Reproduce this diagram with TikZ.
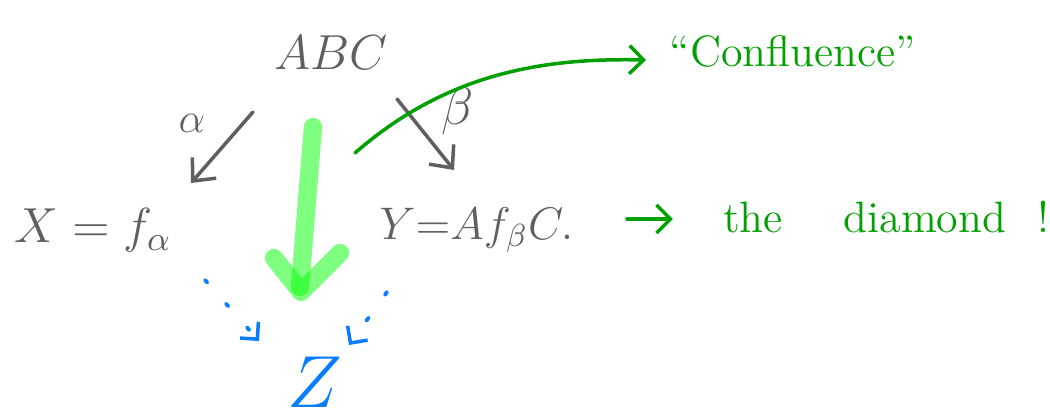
\RequirePackage{fix-cm}
\documentclass[tikz,border=0pt]{standalone}
\usepackage{fontspec}
\usetikzlibrary{arrows.meta}
\definecolor{inkgray}{RGB}{95,95,95}
\definecolor{inkgreen}{RGB}{0,160,0}
\definecolor{hlgreen}{RGB}{0,255,0}
\definecolor{inkblue}{RGB}{10,124,255}
\tikzset{
  txt/.style={inner sep=0pt, anchor=base},
  graytxt/.style={txt, text=inkgray, font=\fontsize{14}{16}\selectfont},
  greentxt/.style={txt, text=inkgreen, font=\fontsize{12.5}{15}\selectfont},
  barb/.style={-{Straight Barb[length=5pt,width=9pt,line width=1pt]}},
  grayarrow/.style={barb, draw=inkgray, line width=1pt, line cap=round},
  greenarrow/.style={-{Straight Barb[length=4pt,width=8pt,line width=1pt]}, draw=inkgreen, line width=1pt, line cap=round},
  bluedots/.style={-{Straight Barb[length=3.5pt,width=7pt,line width=1pt]}, draw=inkblue, line width=1.1pt, line cap=round, dash pattern=on 1pt off 8pt},
  bigarrow/.style={draw=hlgreen, draw opacity=0.5, line width=5.2pt, line cap=round, line join=round}
}
\begin{document}
\begin{tikzpicture}[x=0.01cm, y=-0.01cm]
\useasboundingbox (0,0) rectangle (1050,418);
% texts
\node[graytxt] (abc) at (331,70) {$ABC$};
\node[graytxt, font=\fontsize{12}{14}\selectfont] (alpha) at (192,133) {$\alpha$};
\node[graytxt, font=\fontsize{15}{17}\selectfont] (beta) at (458,124) {$\beta$};
\node[graytxt, anchor=base west] (x) at (14,243) {$X = f_\alpha$};
\node[graytxt, font=\fontsize{13}{15}\selectfont, anchor=base west] (y) at (379,240) {$Y{=}Af_\beta C.$};
\node[txt, text=inkblue, font=\fontsize{21}{24}\selectfont] (z) at (315,408) {$Z$};
\node[greentxt] (conf) at (793,67) {``Confluence''};
\node[greentxt] (the) at (753,232) {the};
\node[greentxt] (diamond) at (925,232) {diamond};
\node[greentxt] (bang) at (1043,232) {!};
% arrow end points
\coordinate (a1) at (253,112);
\coordinate (a2) at (191,183);
\coordinate (b1) at (397,99);
\coordinate (b2) at (454,170);
\coordinate (d1) at (205,280);
\coordinate (d2) at (259,341);
\coordinate (e1) at (387,292);
\coordinate (e2) at (349,345);
\coordinate (g1) at (355,153);
\coordinate (g2) at (646,60);
\coordinate (h1) at (627,219);
\coordinate (h2) at (673,219);
\coordinate (s1) at (313,127);
\coordinate (s2) at (300,287);
\coordinate (v1) at (274,258);
\coordinate (v2) at (301,292);
\coordinate (v3) at (340,253);
% big translucent green arrow
\draw[bigarrow] (s1) -- (s2);
\draw[bigarrow] (v1) -- (v2) -- (v3);
% gray arrows
\draw[grayarrow] (a1) -- (a2);
\draw[grayarrow] (b1) -- (b2);
% blue dotted arrows
\draw[bluedots] (d1) -- (d2);
\draw[bluedots] (e1) -- (e2);
% green arrows
\draw[greenarrow] (g1) .. controls (450,70) and (550,58) .. (g2);
\draw[greenarrow] (h1) -- (h2);
\end{tikzpicture}
\end{document}
